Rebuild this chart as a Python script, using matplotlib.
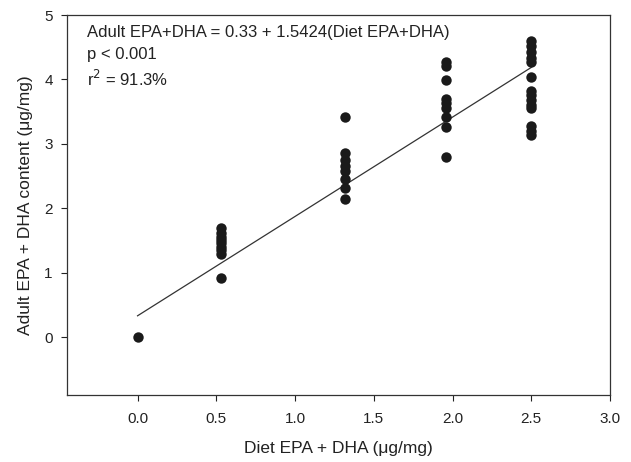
import matplotlib
matplotlib.use("Agg")
import matplotlib.pyplot as plt
import numpy as np

plt.rcParams['font.family'] = ['Liberation Sans', 'DejaVu Sans']

diet_levels = [0.0, 0.53, 1.32, 1.96, 2.5]
adult_values = [
    [0.0],
    [1.69, 1.62, 1.56, 1.51, 1.46, 1.40, 1.35, 1.29, 0.91],
    [3.41, 2.85, 2.75, 2.66, 2.58, 2.45, 2.32, 2.14],
    [4.27, 4.21, 3.99, 3.69, 3.63, 3.55, 3.41, 3.26, 2.80],
    [4.60, 4.52, 4.43, 4.34, 4.27, 4.03, 3.82, 3.76, 3.68, 3.60, 3.55, 3.28, 3.20, 3.13],
]
intercept = 0.33
slope = 1.5424
x_ticks = [0.0, 0.5, 1.0, 1.5, 2.0, 2.5, 3.0]
y_ticks = [0, 1, 2, 3, 4, 5]

fig = plt.figure(figsize=(6.31, 4.62), dpi=100)
ax = fig.add_axes([0.1057, 0.145, 0.861, 0.8225])

xs, ys = [], []
for lvl, vals in zip(diet_levels, adult_values):
    xs.extend([lvl] * len(vals))
    ys.extend(vals)
ax.plot(xs, ys, 'o', color='#1a1a1a', markersize=7.5, markeredgewidth=0, zorder=3)

lx = np.array([0.0, 2.5])
ax.plot(lx, intercept + slope * lx, color='#333333', linewidth=0.9, zorder=2)

ax.set_xlim(-0.45, 3.0)
ax.set_ylim(-0.9, 5.0)
ax.set_xticks(x_ticks)
ax.set_xticklabels([f"{t:.1f}" for t in x_ticks])
ax.set_yticks(y_ticks)
ax.set_yticklabels([str(t) for t in y_ticks])
ax.tick_params(direction='out', length=4, width=0.8, labelsize=11, colors='#222222')
ax.tick_params(axis='x', pad=8)
ax.tick_params(axis='y', pad=6)
for s in ax.spines.values():
    s.set_linewidth(0.9)
    s.set_color('#333333')

ax.set_xlabel("Diet EPA + DHA (\u03bcg/mg)", fontsize=12.5, color='#222222', labelpad=11)
ax.set_ylabel("Adult EPA + DHA content (\u03bcg/mg)", fontsize=12.5, color='#222222', labelpad=8)

tx = 0.037
ax.text(tx, 0.953, "Adult EPA+DHA = 0.33 + 1.5424(Diet EPA+DHA)", transform=ax.transAxes,
        fontsize=12, va='center', ha='left', color='#222222')
ax.text(tx, 0.895, "p < 0.001", transform=ax.transAxes,
        fontsize=12, va='center', ha='left', color='#222222')
ax.text(tx, 0.832, "r$^{2}$ = 91.3%", transform=ax.transAxes,
        fontsize=12, va='center', ha='left', color='#222222')

fig.savefig("out.png", dpi=100)
